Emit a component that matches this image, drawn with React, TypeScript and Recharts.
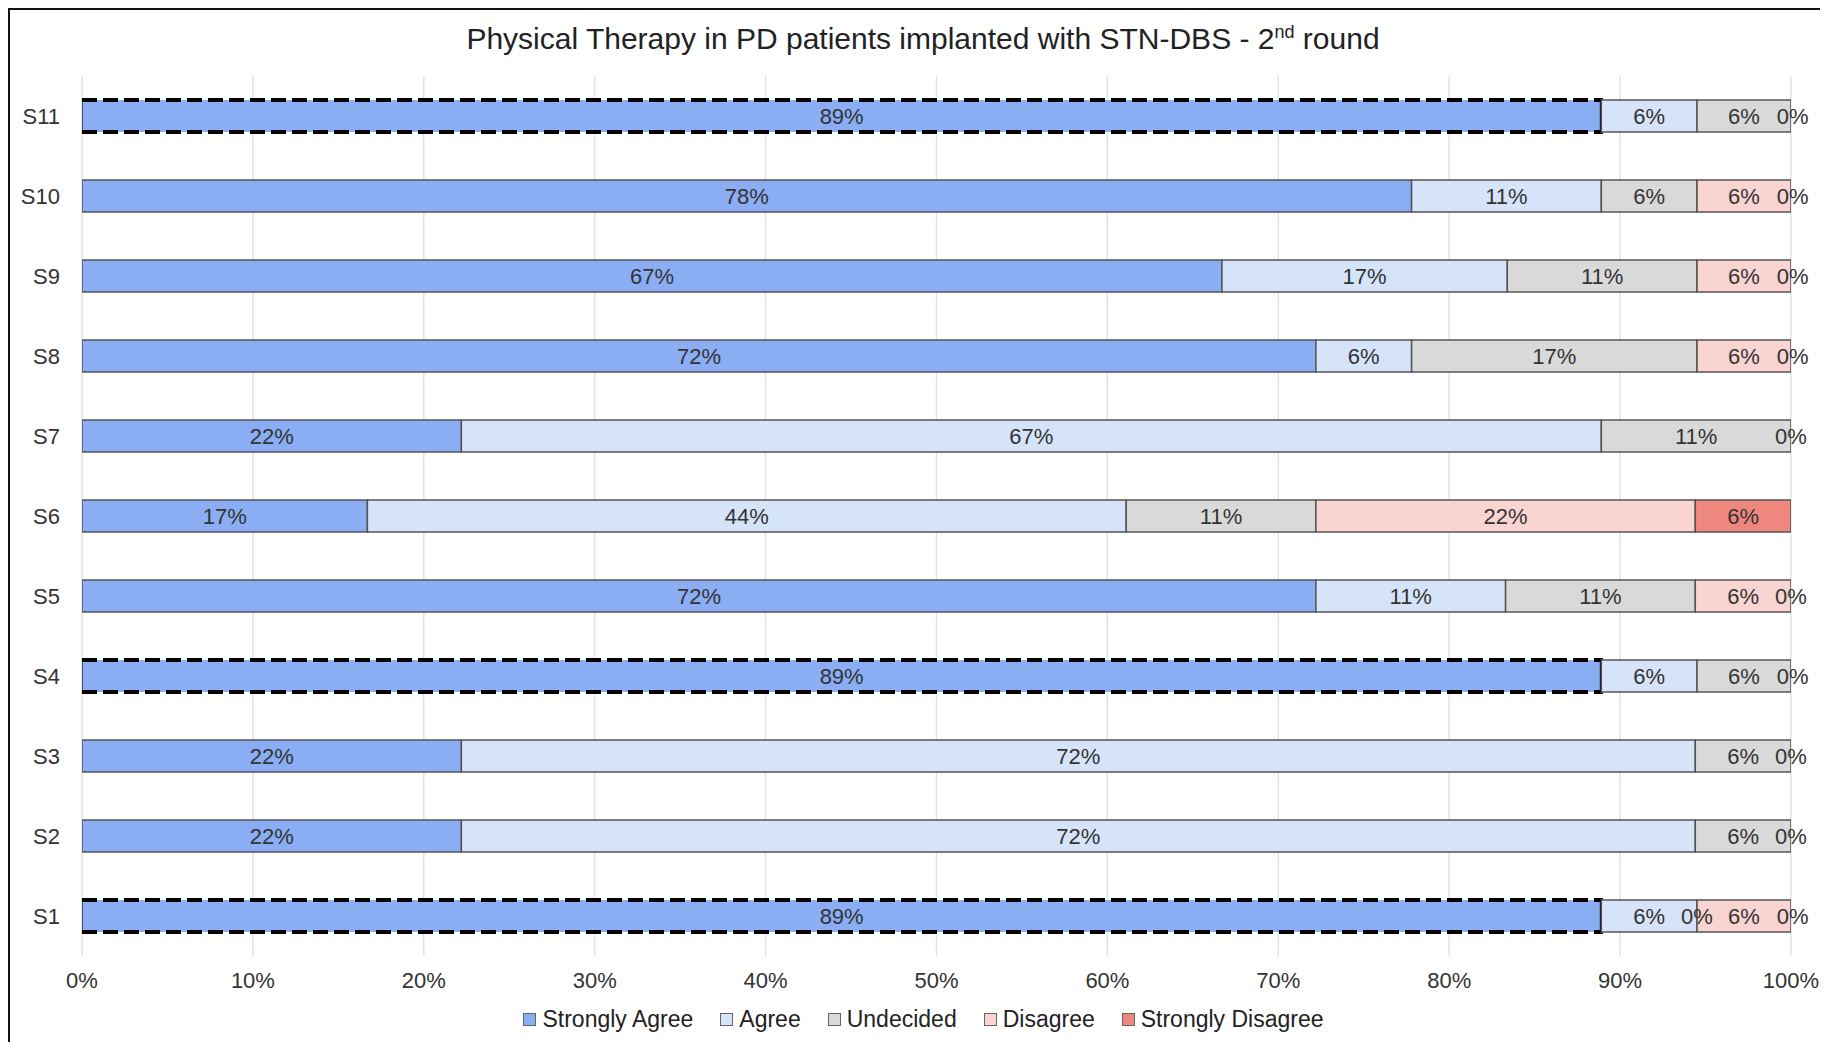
import {Bar, BarChart, CartesianGrid, LabelList, Legend, ReferenceDot, XAxis, YAxis} from "recharts";

// answers per statement, % of 18 respondents
const categories = ['S1', 'S2', 'S3', 'S4', 'S5', 'S6', 'S7', 'S8', 'S9', 'S10', 'S11'];
const stronglyAgree = [88.9, 22.2, 22.2, 88.9, 72.2, 16.7, 22.2, 72.2, 66.7, 77.8, 88.9];
const agree = [5.6, 72.2, 72.2, 5.6, 11.1, 44.4, 66.7, 5.6, 16.7, 11.1, 5.6];
const undecided = [0, 5.6, 5.6, 5.6, 11.1, 11.1, 11.1, 16.7, 11.1, 5.6, 5.6];
const disagree = [5.6, 0, 0, 0, 5.6, 22.2, 0, 5.6, 5.6, 5.6, 0];
const stronglyDisagree = [0, 0, 0, 0, 0, 5.6, 0, 0, 0, 0, 0];

// statements with consensus, boxed with a dashed outline
const consensus = ['S1', 'S4', 'S11'];

const xTicks = [0, 10, 20, 30, 40, 50, 60, 70, 80, 90, 100];

const series = [
    {key: 'stronglyAgree', name: 'Strongly Agree', color: '#8aadf4', values: stronglyAgree},
    {key: 'agree', name: 'Agree', color: '#d6e4fa', values: agree},
    {key: 'undecided', name: 'Undecided', color: '#d9d9d9', values: undecided},
    {key: 'disagree', name: 'Disagree', color: '#f9d4d1', values: disagree},
    {key: 'stronglyDisagree', name: 'Strongly Disagree', color: '#ee877d', values: stronglyDisagree},
];

const rows = categories.map((name, i) => {
    const row: any = {name};
    series.forEach(s => { row[s.key] = s.values[i]; });
    return row;
});

// empty segments have no width, so their "0%" label sits on the stack edge
// (several empty segments on the same edge share one label)
const zeroLabels: {name: string, at: number, key: string}[] = [];
categories.forEach((name, i) => {
    let sum = 0;
    series.forEach(s => {
        const v = s.values[i];
        const key = `${name}-${sum.toFixed(1)}`;
        if (v === 0 && !zeroLabels.some(z => z.key === key)) zeroLabels.push({name, at: sum, key});
        sum += v;
    });
});

const font = "'Liberation Sans', Arial, sans-serif";
const labelFont = {fontFamily: font, fontSize: 22, fill: '#333'};

function ConsensusBar(props: any) {
    const {x, y, width, height, fill, payload} = props;
    const boxed = consensus.includes(payload?.name);
    if (!boxed) {
        return <rect x={x} y={y} width={width} height={height} fill={fill} stroke='#555' strokeWidth={1.5}/>;
    }
    return (
        <g>
            <rect x={x} y={y} width={width} height={height} fill={fill}/>
            <line x1={x} y1={y} x2={x} y2={y + height} stroke='#333' strokeWidth={1.5}/>
            <line x1={x} y1={y} x2={x + width} y2={y} stroke='#000' strokeWidth={4} strokeDasharray='15 6'/>
            <line x1={x} y1={y + height} x2={x + width} y2={y + height} stroke='#000' strokeWidth={4} strokeDasharray='15 6'/>
            <line x1={x + width} y1={y - 2} x2={x + width} y2={y + height + 2} stroke='#000' strokeWidth={3}/>
        </g>
    );
}

function LegendBox() {
    return (
        <div style={{display: 'flex', justifyContent: 'center', gap: 27, paddingLeft: 34, fontFamily: font, fontSize: 23, color: '#222'}}>
            {series.map(s => (
                <div key={s.key} style={{display: 'flex', alignItems: 'center'}}>
                    <span style={{width: 11, height: 11, background: s.color, border: '1.5px solid #666', marginRight: 6, display: 'inline-block'}}/>
                    {s.name}
                </div>
            ))}
        </div>
    );
}

export default function App() {
    return (
        <div style={{position: 'relative', width: 1818, height: 1032, borderTop: '2px solid #111', borderLeft: '2px solid #111', background: '#fff'}}>
            <div style={{position: 'absolute', top: 12, left: 0, width: 1826, textAlign: 'center', fontFamily: font, fontSize: 30, color: '#222'}}>
                Physical Therapy in PD patients implanted with STN-DBS - 2<sup style={{fontSize: 18}}>nd</sup> round
            </div>
            <BarChart
                width={1818}
                height={1032}
                data={rows}
                layout='vertical'
                margin={{top: 66, right: 37, bottom: 13, left: 12}}
                barSize={32}
            >
                <CartesianGrid horizontal={false} stroke='#e2e2e2' strokeWidth={1.5}/>
                <XAxis
                    type='number'
                    domain={[0, 100]}
                    ticks={xTicks}
                    allowDataOverflow
                    axisLine={false}
                    tickLine={false}
                    tickMargin={10}
                    height={46}
                    tick={{fontFamily: font, fontSize: 22, fill: '#333'}}
                    tickFormatter={(v: number) => `${v}%`}/>
                <YAxis
                    type='category'
                    dataKey='name'
                    reversed
                    width={60}
                    axisLine={false}
                    tickLine={false}
                    tickSize={0}
                    tickMargin={22}
                    tick={{fontFamily: font, fontSize: 22, fill: '#333'}}/>
                <Legend verticalAlign='bottom' wrapperStyle={{bottom: 9}} content={() => <LegendBox/>}/>
                {series.map(s => (
                    <Bar
                        key={s.key}
                        dataKey={s.key}
                        name={s.name}
                        stackId='a'
                        fill={s.color}
                        stroke='#555'
                        strokeWidth={1.5}
                        shape={s.key === 'stronglyAgree' ? ConsensusBar : undefined}
                        isAnimationActive={false}
                    >
                        <LabelList
                            dataKey={s.key}
                            position='center'
                            {...labelFont}
                            formatter={(v: any) => `${Math.round(Number(v))}%`}/>
                    </Bar>
                ))}
                {zeroLabels.map(z => (
                    <ReferenceDot
                        key={z.key}
                        x={z.at}
                        y={z.name}
                        r={0}
                        fill='none'
                        stroke='none'
                        ifOverflow='visible'
                        label={{value: '0%', position: 'center', ...labelFont}}/>
                ))}
            </BarChart>
        </div>
    );
}
